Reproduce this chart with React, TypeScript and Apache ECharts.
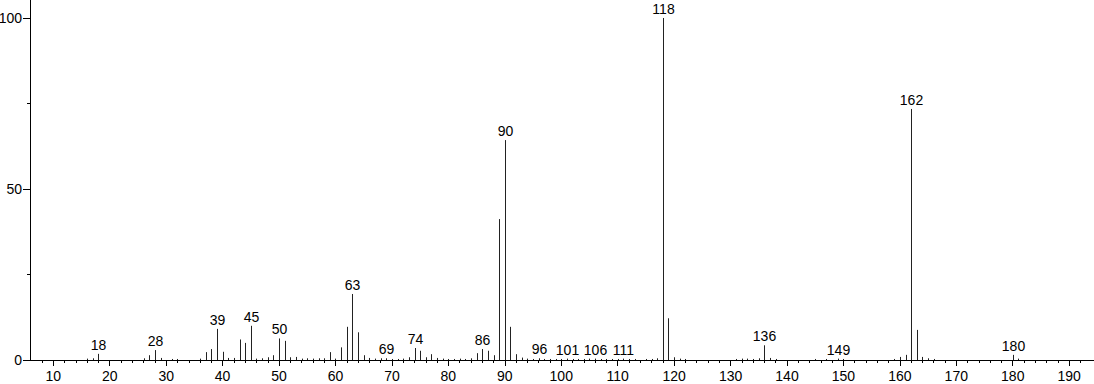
import React, { useEffect, useRef } from "react";
import * as echarts from "echarts";

const MZ = [16, 17, 18, 26, 27, 28, 29, 31, 32, 36, 37, 38, 39, 40, 41, 42, 43, 44, 45, 46, 47, 48, 49, 50, 51, 52, 53, 54, 55, 56, 57, 58, 59, 60, 61, 62, 63, 64, 65, 66, 67, 68, 69, 70, 71, 72, 73, 74, 75, 76, 77, 78, 79, 80, 81, 82, 83, 84, 85, 86, 87, 88, 89, 90, 91, 92, 93, 94, 95, 96, 97, 98, 99, 100, 101, 102, 103, 104, 105, 106, 107, 108, 109, 110, 111, 112, 113, 115, 116, 117, 118, 119, 120, 121, 122, 131, 132, 133, 134, 135, 136, 137, 138, 145, 147, 149, 150, 159, 160, 161, 162, 163, 164, 165, 166, 180, 181];
const INTENSITY = [0.4, 0.5, 1.8, 0.5, 1.4, 2.9, 0.6, 0.3, 0.3, 0.4, 2.3, 3.2, 9.1, 2.4, 0.6, 0.6, 6.0, 5.0, 10.0, 0.4, 0.5, 0.8, 1.4, 6.3, 5.6, 0.8, 0.9, 0.4, 0.5, 0.4, 0.5, 0.5, 2.3, 0.4, 3.7, 9.7, 19.3, 8.1, 1.4, 0.6, 0.4, 0.5, 0.5, 0.3, 0.3, 0.4, 0.8, 3.5, 2.7, 0.8, 1.7, 0.6, 0.4, 0.3, 0.3, 0.4, 0.3, 0.5, 2.0, 3.2, 2.7, 1.4, 41.2, 64.3, 9.7, 1.7, 0.7, 0.4, 0.3, 0.5, 0.3, 0.3, 0.3, 0.3, 0.4, 0.3, 0.3, 0.3, 0.4, 0.4, 0.3, 0.3, 0.3, 0.3, 0.4, 0.3, 0.3, 0.3, 0.3, 0.5, 100, 12.2, 0.8, 0.4, 0.3, 0.3, 0.4, 0.4, 0.3, 0.5, 4.3, 0.6, 0.3, 0.3, 0.3, 0.4, 0.3, 0.3, 0.9, 1.5, 73.4, 8.8, 0.9, 0.5, 0.3, 1.5, 0.4];
const LABELED = [18, 28, 39, 45, 50, 63, 69, 74, 86, 90, 96, 101, 106, 111, 118, 136, 149, 162, 180];

const X_MAJOR = [10, 20, 30, 40, 50, 60, 70, 80, 90, 100, 110, 120, 130, 140, 150, 160, 170, 180, 190];
const X_MINOR = [8, 12, 14, 16, 18, 22, 24, 26, 28, 32, 34, 36, 38, 42, 44, 46, 48, 52, 54, 56, 58, 62, 64, 66, 68, 72, 74, 76, 78, 82, 84, 86, 88, 92, 94, 96, 98, 102, 104, 106, 108, 112, 114, 116, 118, 122, 124, 126, 128, 132, 134, 136, 138, 142, 144, 146, 148, 152, 154, 156, 158, 162, 164, 166, 168, 172, 174, 176, 178, 182, 184, 186, 188, 192];
const Y_MAJOR = [0, 50, 100];
const Y_MINOR = [25, 75];

const X_MIN = 5.87;
const X_MAX = 194.4;
const Y_MAX = 105.26;
const FONT = '"Liberation Sans", Arial, sans-serif';

export default function App() {
  const ref = useRef<HTMLDivElement>(null);
  useEffect(() => {
    if (!ref.current) return;
    const chart = echarts.init(ref.current, undefined, { renderer: "svg" });
    const data = MZ.map((m, i) => [m, INTENSITY[i]]);
    chart.setOption({
      animation: false,
      backgroundColor: "#fff",
      grid: { left: 30, right: 0, top: 0, bottom: 24, containLabel: false, outerBoundsMode: "none" },
      xAxis: [
        {
          type: "value", min: X_MIN, max: X_MAX, position: "bottom",
          axisLine: { show: true, lineStyle: { color: "#000", width: 1 } },
          axisTick: { show: true, customValues: X_MAJOR, length: 6, lineStyle: { color: "#000" } },
          axisLabel: { show: true, customValues: X_MAJOR, color: "#000", fontSize: 14, fontFamily: FONT, margin: 9 },
          splitLine: { show: false },
        },
        {
          type: "value", min: X_MIN, max: X_MAX, position: "bottom",
          axisLine: { show: false },
          axisTick: { show: true, customValues: X_MINOR, length: 3, lineStyle: { color: "#000" } },
          axisLabel: { show: false },
          splitLine: { show: false },
        },
      ],
      yAxis: [
        {
          type: "value", min: 0, max: Y_MAX, position: "left",
          axisLine: { show: true, lineStyle: { color: "#000", width: 1 } },
          axisTick: { show: true, customValues: Y_MAJOR, length: 7, lineStyle: { color: "#000" } },
          axisLabel: { show: true, customValues: Y_MAJOR, color: "#000", fontSize: 14, fontFamily: FONT, margin: 8 },
          splitLine: { show: false },
        },
        {
          type: "value", min: 0, max: Y_MAX, position: "left",
          axisLine: { show: false },
          axisTick: { show: true, customValues: Y_MINOR, length: 3, lineStyle: { color: "#000" } },
          axisLabel: { show: false },
          splitLine: { show: false },
        },
      ],
      series: [
        {
          type: "custom",
          xAxisIndex: 0,
          yAxisIndex: 0,
          data,
          renderItem: (params: any, api: any) => {
            const x = api.value(0);
            const y = api.value(1);
            const p0 = api.coord([x, 0]);
            const p1 = api.coord([x, y]);
            const px = Math.round(p0[0]) + 0.5;
            const children: any[] = [
              {
                type: "line",
                shape: { x1: px, y1: p0[1], x2: px, y2: p1[1] },
                style: { stroke: "#222", lineWidth: 1 },
              },
            ];
            if (LABELED.indexOf(x) >= 0) {
              children.push({
                type: "text",
                x: px,
                y: p1[1] - 2,
                style: {
                  text: String(x),
                  align: "center",
                  verticalAlign: "bottom",
                  font: `14px ${FONT}`,
                  fill: "#000",
                },
              });
            }
            return { type: "group", children };
          },
        },
      ],
    });
    return () => chart.dispose();
  }, []);
  return (
    <div
      ref={ref}
      style={{ position: "absolute", left: 0, top: 0, width: 1094, height: 384, background: "#fff" }}
    />
  );
}
